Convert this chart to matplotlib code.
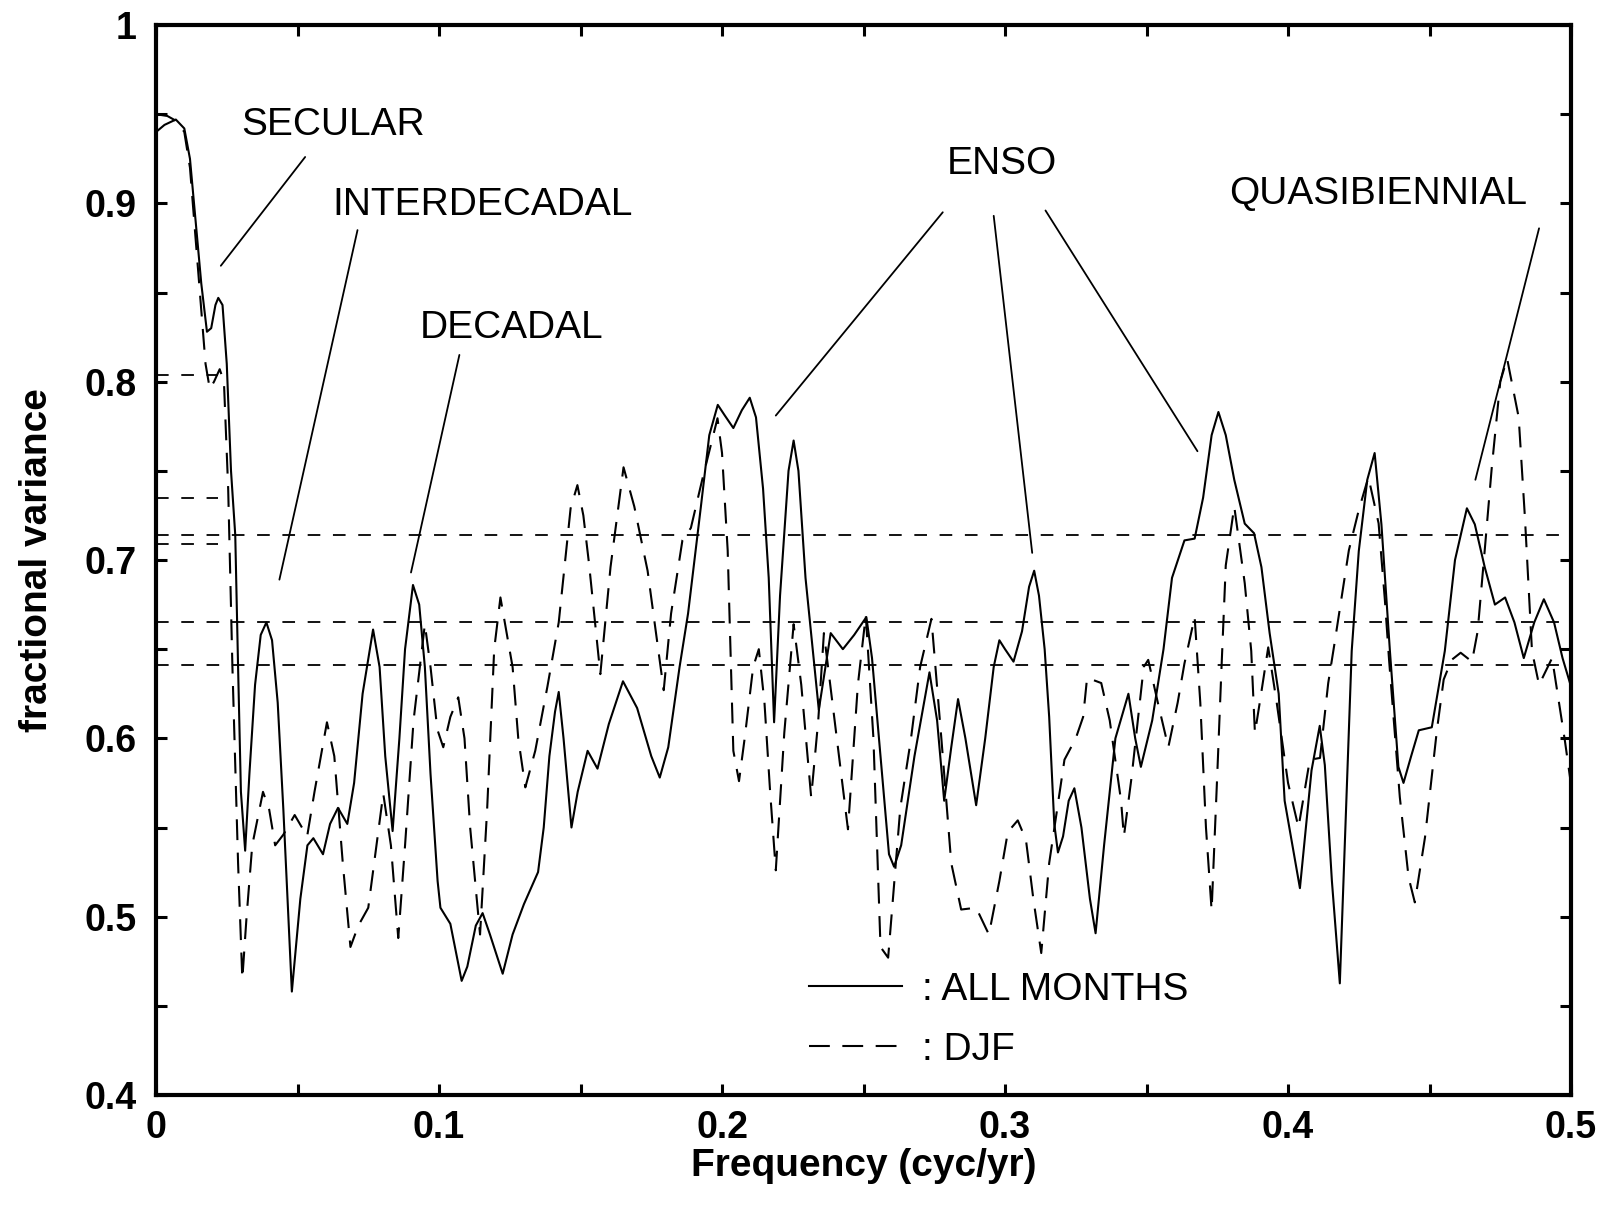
import matplotlib
matplotlib.use('Agg')
import matplotlib.pyplot as plt
from matplotlib.ticker import MultipleLocator, FixedLocator

plt.rcParams['font.family'] = ['Liberation Sans', 'DejaVu Sans']

# fractional variance, all months
freq_all = [0.000, 0.003, 0.007, 0.010, 0.012, 0.014, 0.016, 0.018, 0.0195, 0.021,
            0.022, 0.0235, 0.025, 0.0265, 0.028, 0.029, 0.030, 0.0315, 0.033, 0.035,
            0.037, 0.039, 0.041, 0.043, 0.045, 0.048, 0.051, 0.0535, 0.0556, 0.059,
            0.0615, 0.0643, 0.0676, 0.070, 0.073, 0.0767, 0.079, 0.081, 0.0836, 0.086,
            0.088, 0.0908, 0.093, 0.095, 0.097, 0.0995, 0.1005, 0.104, 0.106, 0.108,
            0.110, 0.113, 0.1154, 0.118, 0.1225, 0.126, 0.130, 0.135, 0.137, 0.139,
            0.141, 0.1423, 0.144, 0.1468, 0.149, 0.1525, 0.156, 0.160, 0.165, 0.170,
            0.175, 0.178, 0.181, 0.185, 0.188, 0.1925, 0.1955, 0.1985, 0.201, 0.204,
            0.207, 0.2098, 0.212, 0.2145, 0.2165, 0.2184, 0.2205, 0.2235, 0.2253, 0.227,
            0.2295, 0.2342, 0.2384, 0.2427, 0.2467, 0.251, 0.253, 0.256, 0.259, 0.2608,
            0.2633, 0.268, 0.2733, 0.276, 0.2785, 0.281, 0.2834, 0.286, 0.2898, 0.293,
            0.296, 0.298, 0.300, 0.303, 0.306, 0.3085, 0.3103, 0.312, 0.314, 0.3156,
            0.3174, 0.3187, 0.3205, 0.3225, 0.3245, 0.327, 0.330, 0.332, 0.335, 0.339,
            0.3436, 0.346, 0.348, 0.352, 0.356, 0.359, 0.3634, 0.367, 0.370, 0.373,
            0.3754, 0.378, 0.381, 0.3847, 0.388, 0.3906, 0.3935, 0.3967, 0.3988, 0.4042,
            0.406, 0.4083, 0.4112, 0.413, 0.4155, 0.4183, 0.4205, 0.4225, 0.425, 0.428,
            0.4306, 0.433, 0.436, 0.439, 0.4408, 0.4435, 0.4462, 0.4508, 0.4554, 0.459,
            0.4632, 0.466, 0.4695, 0.4731, 0.4767, 0.480, 0.4833, 0.487, 0.4904, 0.494,
            0.497, 0.500]
var_all = [0.940, 0.944, 0.947, 0.942, 0.925, 0.890, 0.855, 0.828, 0.830, 0.843,
           0.847, 0.843, 0.810, 0.750, 0.714, 0.640, 0.570, 0.537, 0.580, 0.630,
           0.658, 0.665, 0.655, 0.620, 0.560, 0.458, 0.510, 0.540, 0.544, 0.535,
           0.552, 0.561, 0.552, 0.575, 0.625, 0.661, 0.640, 0.590, 0.548, 0.600,
           0.650, 0.686, 0.675, 0.640, 0.580, 0.520, 0.505, 0.496, 0.480, 0.464,
           0.472, 0.495, 0.502, 0.490, 0.468, 0.490, 0.507, 0.525, 0.550, 0.590,
           0.615, 0.626, 0.600, 0.550, 0.570, 0.593, 0.583, 0.608, 0.632, 0.617,
           0.590, 0.578, 0.595, 0.640, 0.670, 0.7295, 0.770, 0.787, 0.781, 0.774,
           0.784, 0.791, 0.780, 0.740, 0.690, 0.609, 0.680, 0.750, 0.767, 0.750,
           0.690, 0.616, 0.659, 0.650, 0.658, 0.668, 0.645, 0.590, 0.535, 0.528,
           0.540, 0.590, 0.637, 0.610, 0.565, 0.595, 0.622, 0.600, 0.5625, 0.600,
           0.640, 0.655, 0.650, 0.643, 0.660, 0.685, 0.694, 0.680, 0.650, 0.612,
           0.552, 0.536, 0.545, 0.565, 0.572, 0.550, 0.510, 0.4907, 0.540, 0.600,
           0.625, 0.600, 0.584, 0.610, 0.650, 0.690, 0.711, 0.712, 0.735, 0.770,
           0.783, 0.770, 0.745, 0.7204, 0.715, 0.696, 0.659, 0.625, 0.565, 0.516,
           0.545, 0.582, 0.607, 0.585, 0.520, 0.4626, 0.560, 0.649, 0.705, 0.745,
           0.760, 0.720, 0.649, 0.584, 0.575, 0.590, 0.6045, 0.6062, 0.649, 0.700,
           0.729, 0.720, 0.696, 0.675, 0.679, 0.665, 0.645, 0.665, 0.678, 0.665,
           0.645, 0.629]

# fractional variance, DJF
freq_djf = [0.000, 0.004, 0.0074, 0.010, 0.012, 0.014, 0.016, 0.0175, 0.019, 0.0205,
            0.0225, 0.024, 0.0255, 0.027, 0.029, 0.0305, 0.032, 0.034, 0.0378, 0.040,
            0.0421, 0.045, 0.049, 0.0534, 0.056, 0.0604, 0.063, 0.066, 0.0687, 0.0715,
            0.075, 0.0803, 0.083, 0.0856, 0.088, 0.091, 0.095, 0.097, 0.0994, 0.1015,
            0.104, 0.1068, 0.109, 0.111, 0.1145, 0.117, 0.1195, 0.1217, 0.126, 0.128,
            0.1305, 0.134, 0.1383, 0.1423, 0.1465, 0.1489, 0.151, 0.153, 0.157, 0.1606,
            0.1652, 0.169, 0.1737, 0.1794, 0.182, 0.186, 0.189, 0.193, 0.1984, 0.200,
            0.202, 0.204, 0.206, 0.208, 0.211, 0.213, 0.215, 0.217, 0.219, 0.222,
            0.2253, 0.228, 0.2315, 0.234, 0.236, 0.2445, 0.248, 0.2508, 0.2535, 0.256,
            0.2587, 0.263, 0.2667, 0.270, 0.274, 0.2775, 0.281, 0.2845, 0.2898, 0.2943,
            0.298, 0.301, 0.3045, 0.3074, 0.310, 0.3128, 0.3156, 0.321, 0.325, 0.3276,
            0.329, 0.334, 0.337, 0.341, 0.342, 0.3447, 0.349, 0.3506, 0.354, 0.3577,
            0.361, 0.3634, 0.367, 0.369, 0.371, 0.373, 0.375, 0.3765, 0.378, 0.381,
            0.3847, 0.387, 0.3883, 0.390, 0.393, 0.396, 0.400, 0.4037, 0.4077, 0.4113,
            0.4142, 0.4164, 0.4215, 0.425, 0.4284, 0.432, 0.4342, 0.4357, 0.4395, 0.4426,
            0.4448, 0.4484, 0.4526, 0.455, 0.4578, 0.461, 0.465, 0.467, 0.4695, 0.472,
            0.475, 0.4774, 0.4815, 0.4837, 0.4862, 0.4887, 0.4933, 0.4978, 0.500]
var_djf = [0.950, 0.949, 0.946, 0.940, 0.920, 0.880, 0.840, 0.810, 0.796, 0.800,
           0.807, 0.800, 0.740, 0.640, 0.530, 0.465, 0.500, 0.540, 0.570, 0.560,
           0.540, 0.546, 0.557, 0.545, 0.570, 0.609, 0.590, 0.530, 0.483, 0.495,
           0.505, 0.569, 0.540, 0.488, 0.540, 0.610, 0.664, 0.640, 0.605, 0.595,
           0.612, 0.623, 0.600, 0.550, 0.490, 0.560, 0.650, 0.679, 0.640, 0.600,
           0.5725, 0.593, 0.629, 0.665, 0.729, 0.742, 0.725, 0.698, 0.636, 0.696,
           0.752, 0.730, 0.694, 0.627, 0.670, 0.711, 0.718, 0.745, 0.7795, 0.760,
           0.7054, 0.593, 0.576, 0.600, 0.640, 0.650, 0.620, 0.570, 0.526, 0.603,
           0.664, 0.630, 0.567, 0.610, 0.659, 0.549, 0.630, 0.669, 0.600, 0.483,
           0.477, 0.561, 0.599, 0.640, 0.667, 0.600, 0.530, 0.504, 0.505, 0.490,
           0.520, 0.5475, 0.554, 0.543, 0.510, 0.4796, 0.530, 0.588, 0.600, 0.612,
           0.634, 0.631, 0.610, 0.565, 0.545, 0.578, 0.640, 0.644, 0.620, 0.595,
           0.620, 0.642, 0.668, 0.620, 0.550, 0.5035, 0.580, 0.640, 0.697, 0.730,
           0.687, 0.649, 0.603, 0.620, 0.651, 0.620, 0.575, 0.550, 0.588, 0.589,
           0.631, 0.653, 0.7055, 0.728, 0.7465, 0.7206, 0.678, 0.644, 0.567, 0.522,
           0.508, 0.5445, 0.6045, 0.633, 0.644, 0.648, 0.643, 0.660, 0.7055, 0.752,
           0.800, 0.813, 0.780, 0.724, 0.649, 0.630, 0.645, 0.599, 0.574]

# significance levels: full width and short low-frequency ones
sig_levels = [0.714, 0.6655, 0.641]
sig_short = [0.804, 0.735, 0.709]
sig_short_end = 0.022

# band labels: text, text position, leader lines (start, end)
bands = [
    ('SECULAR', (0.0627, 0.944), [((0.0527, 0.926), (0.0229, 0.865))]),
    ('INTERDECADAL', (0.1155, 0.899), [((0.0712, 0.885), (0.0436, 0.689))]),
    ('DECADAL', (0.1257, 0.830), [((0.1072, 0.815), (0.0901, 0.693))]),
    ('ENSO', (0.299, 0.922), [((0.278, 0.895), (0.219, 0.781)),
                              ((0.296, 0.893), (0.3096, 0.704)),
                              ((0.3143, 0.896), (0.368, 0.761))]),
    ('QUASIBIENNIAL', (0.4317, 0.905), [((0.4887, 0.886), (0.4662, 0.745))]),
]

fig = plt.figure(figsize=(16.1, 12.09), dpi=100)
ax = fig.add_axes([0.0969, 0.0943, 0.8789, 0.885])

lw = 1.5
ax.plot(freq_all, var_all, color='black', lw=lw, label=': ALL MONTHS')
ax.plot(freq_djf, var_djf, color='black', lw=lw, linestyle=(0, (10, 6)), label=': DJF')

for lev in sig_levels:
    ax.axhline(lev, color='black', lw=1.3, linestyle=(0, (7, 7)))
ax.hlines(sig_short, 0, sig_short_end, color='black', lw=1.3, linestyles=[(0, (7, 7))])

for text, pos, leaders in bands:
    ax.text(pos[0], pos[1], text, fontsize=28, ha='center', va='center')
    for start, end in leaders:
        ax.annotate('', xy=end, xytext=start,
                    arrowprops=dict(arrowstyle='-', color='black', lw=1.3,
                                    shrinkA=0, shrinkB=0))

ax.set_xlim(0, 0.5)
ax.set_ylim(0.4, 1.0)
ax.xaxis.set_major_locator(FixedLocator([0, 0.1, 0.2, 0.3, 0.4, 0.5]))
ax.xaxis.set_minor_locator(MultipleLocator(0.05))
ax.yaxis.set_major_locator(FixedLocator([0.4, 0.5, 0.6, 0.7, 0.8, 0.9, 1.0]))
ax.yaxis.set_minor_locator(MultipleLocator(0.05))
ax.set_xticklabels(['0', '0.1', '0.2', '0.3', '0.4', '0.5'])
ax.set_yticklabels(['0.4', '0.5', '0.6', '0.7', '0.8', '0.9', '1'])
ax.tick_params(which='both', direction='in', top=True, right=True,
               length=8, width=2.2)
ax.tick_params(axis='x', labelsize=27, pad=11)
ax.tick_params(axis='y', labelsize=27, pad=14)
for lab in ax.get_xticklabels() + ax.get_yticklabels():
    lab.set_fontweight('bold')
for sp in ax.spines.values():
    sp.set_linewidth(3)

ax.set_xlabel('Frequency (cyc/yr)', fontsize=28, fontweight='bold', labelpad=1)
ax.set_ylabel('fractional variance', fontsize=28, fontweight='bold', labelpad=21)

ax.legend(loc='upper left', bbox_to_anchor=(0.2307, 0.469), bbox_transform=ax.transData,
          frameon=False, fontsize=28, handlelength=2.4, handletextpad=0.5,
          labelspacing=0.62, borderpad=0, borderaxespad=0)

fig.savefig('out.png', dpi=100)
